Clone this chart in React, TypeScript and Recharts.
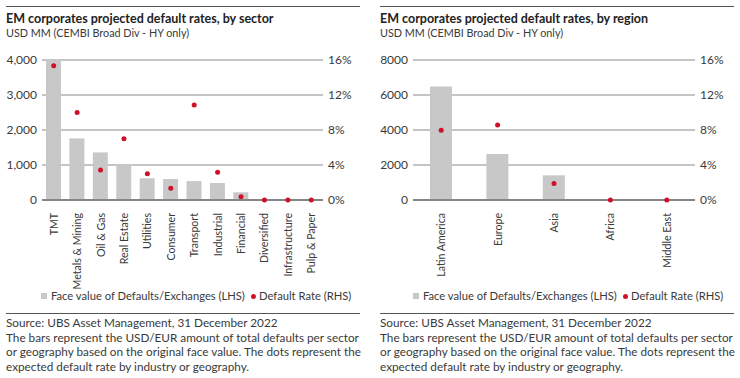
import React from 'react';
import { ComposedChart, Bar, Line, XAxis, YAxis, CartesianGrid } from 'recharts';

const sectors = ['TMT', 'Metals & Mining', 'Oil  & Gas', 'Real Estate', 'Utilities', 'Consumer', 'Transport', 'Industrial', 'Financial', 'Diversified', 'Infrastructure', 'Pulp & Paper'];
const sectorFaceValue = [4000, 1760, 1360, 1020, 620, 600, 540, 485, 220, 0, 0, 0];
const sectorRate = [15.35, 10.0, 3.43, 7.0, 3.0, 1.33, 10.86, 3.16, 0.38, 0, 0, 0];

const regions = ['Latin America', 'Europe', 'Asia', 'Africa', 'Middle East'];
const regionFaceValue = [6480, 2630, 1410, 0, 0];
const regionRate = [7.96, 8.57, 1.9, 0, 0];

const sectorTicks = [0, 1000, 2000, 3000, 4000];
const regionTicks = [0, 2000, 4000, 6000, 8000];
const rateTicks = [0, 4, 8, 12, 16];

const sourceLines = [
    'Source: UBS Asset Management, 31 December 2022',
    'The bars represent the USD/EUR amount of total defaults per sector',
    'or geography based on the original face value. The dots represent the',
    'expected default rate by industry or geography.',
];

const FONT = 'Lato, "Noto Sans", sans-serif';
const TEXT = '#3a3a3a';
const RED = '#d0102a';
const GREY = '#c8c8c8';

const RotatedTick = (props: any) => {
    const { x, y, payload } = props;
    return (
        <text
            x={0}
            y={0}
            transform={`translate(${x + 4},${y + 5}) rotate(-90)`}
            textAnchor="end"
            fontSize={10.6}
            fill={TEXT}
            fontFamily={FONT}
        >
            {payload.value}
        </text>
    );
};

interface PanelProps {
    left: number;
    title: string;
    cats: string[];
    bars: number[];
    rates: number[];
    ticks: number[];
    comma: boolean;
    yLeftWidth: number;
    yRightWidth: number;
    barSize: number;
    legendLeft: number;
}

function Panel(p: PanelProps) {
    const data = p.cats.map((c, i) => ({ name: c, face: p.bars[i], rate: p.rates[i] }));
    const max = p.ticks[p.ticks.length - 1];
    const lx = p.legendLeft;
    return (
        <div style={{ position: 'absolute', left: p.left, top: 0, width: 362, height: 378, fontFamily: FONT, color: TEXT }}>
            <div style={{ position: 'absolute', top: 6, left: 6, width: 354, height: 1, background: '#555' }} />
            <div style={{ position: 'absolute', top: 11, left: 6, fontSize: 12.5, lineHeight: '16px', fontWeight: 700, color: '#222', whiteSpace: 'nowrap' }}>
                {p.title}
            </div>
            <div style={{ position: 'absolute', top: 26, left: 6, fontSize: 10.8, lineHeight: '14px', whiteSpace: 'nowrap' }}>
                USD MM (CEMBI Broad Div - HY only)
            </div>
            <div style={{ position: 'absolute', top: 45, left: 0 }}>
                <ComposedChart width={362} height={250} data={data} margin={{ top: 15, right: 0, bottom: 0, left: 0 }}>
                    <CartesianGrid yAxisId="left" vertical={false} stroke="#8a8a8a" />
                    <XAxis
                        dataKey="name"
                        interval={0}
                        height={95}
                        tickLine={false}
                        axisLine={{ stroke: '#444' }}
                        tick={<RotatedTick />}
                    />
                    <YAxis
                        yAxisId="left"
                        width={p.yLeftWidth}
                        domain={[0, max]}
                        ticks={p.ticks}
                        tickLine={false}
                        axisLine={false}
                        tickSize={3}
                        tickMargin={2}
                        tick={{ fontSize: 12, fill: TEXT, fontFamily: FONT }}
                        tickFormatter={(v: number) => (p.comma ? v.toLocaleString('en-US') : String(v))}
                    />
                    <YAxis
                        yAxisId="right"
                        orientation="right"
                        width={p.yRightWidth}
                        domain={[0, 16]}
                        ticks={rateTicks}
                        tickLine={false}
                        axisLine={false}
                        tickSize={3}
                        tickMargin={2}
                        tick={{ fontSize: 12, fill: TEXT, fontFamily: FONT }}
                        tickFormatter={(v: number) => `${v}%`}
                    />
                    <Bar yAxisId="left" dataKey="face" fill={GREY} barSize={p.barSize} isAnimationActive={false} />
                    <Line
                        yAxisId="right"
                        dataKey="rate"
                        stroke="none"
                        dot={{ r: 2.5, fill: RED, stroke: 'none' }}
                        activeDot={false}
                        isAnimationActive={false}
                    />
                </ComposedChart>
            </div>
            <div style={{ position: 'absolute', top: 288, left: 0, width: 362, height: 16, fontSize: 11.2, lineHeight: '16px', whiteSpace: 'nowrap' }}>
                <span style={{ position: 'absolute', left: lx, top: 5, width: 6, height: 6, background: GREY }} />
                <span style={{ position: 'absolute', left: lx + 10, top: 0 }}>Face value of Defaults/Exchanges (LHS)</span>
                <span style={{ position: 'absolute', left: lx + 210, top: 5.5, width: 5, height: 5, borderRadius: 3, background: RED }} />
                <span style={{ position: 'absolute', left: lx + 218, top: 0 }}>Default Rate (RHS)</span>
            </div>
            <div style={{ position: 'absolute', top: 313, left: 6, width: 354, height: 1, background: '#555' }} />
            <div style={{ position: 'absolute', top: 316, left: 6, fontSize: 11.75, lineHeight: '14.5px', whiteSpace: 'nowrap' }}>
                {sourceLines.map((l) => (
                    <div key={l}>{l}</div>
                ))}
            </div>
        </div>
    );
}

export default function App() {
    return (
        <div style={{ position: 'relative', width: 740, height: 378, background: '#fff' }}>
            <style>{'body{margin:0}'}</style>
            <Panel
                left={0}
                title="EM corporates projected default rates, by sector"
                cats={sectors}
                bars={sectorFaceValue}
                rates={sectorRate}
                ticks={sectorTicks}
                comma
                yLeftWidth={42}
                yRightWidth={39}
                barSize={15}
                legendLeft={41}
            />
            <Panel
                left={374}
                title="EM corporates projected default rates, by region"
                cats={regions}
                bars={regionFaceValue}
                rates={regionRate}
                ticks={regionTicks}
                comma={false}
                yLeftWidth={39}
                yRightWidth={41}
                barSize={22}
                legendLeft={39}
            />
        </div>
    );
}
